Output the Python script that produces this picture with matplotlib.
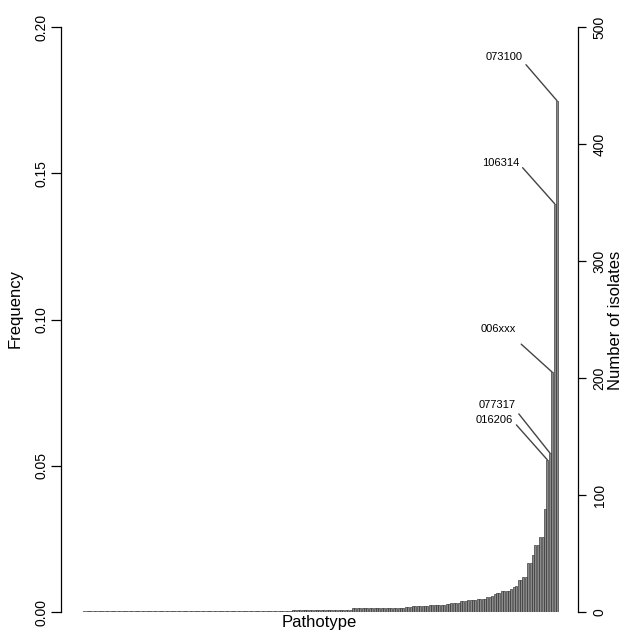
import numpy as np
import matplotlib
matplotlib.use("Agg")
import matplotlib.pyplot as plt

plt.rcParams['font.family'] = ['Liberation Sans', 'DejaVu Sans']

# Number of isolates per pathotype, sorted ascending (run-length: level, number of pathotypes)
count_levels = [1, 2, 3, 4, 5, 6, 7, 8, 9, 10, 11, 13, 14, 15, 16, 18, 20, 21, 22,
                27, 30, 42, 49, 57, 64, 88, 130, 136, 205, 349, 437]
n_pathotypes = [87, 25, 22, 3, 7, 7, 2, 4, 3, 4, 4, 2, 1, 1, 2, 4, 1, 1, 1,
                2, 2, 2, 1, 2, 2, 1, 1, 1, 1, 1, 1]
counts = np.repeat(count_levels, n_pathotypes)

# Labelled pathotypes (from the right end)
label_names = ["073100", "106314", "006xxx", "077317", "016206"]
label_rank_from_end = [1, 2, 3, 4, 5]

right_ticks = [0, 100, 200, 300, 400, 500]
left_ticks = [0.00, 0.05, 0.10, 0.15, 0.20]
left_tick_labels = ["0.00", "0.05", "0.10", "0.15", "0.20"]

# layout (pixels): line start offset from bar top, text offset from line start
line_offsets = [(-31, 36), (-32, 36), (-31, 28), (-31, 39), (-31, 35)]
text_offsets = [(-3, 8), (-3, 5), (-5, 15), (-3, 9), (-4, 5)]

W, H = 625, 635
fig = plt.figure(figsize=(W / 100, H / 100), dpi=100)
ax_l, ax_r, y_bot, y_top = 61, 578, 612, 27
ax = fig.add_axes([ax_l / W, 1 - y_bot / H, (ax_r - ax_l) / W, (y_bot - y_top) / H])
ax2 = ax.twinx()

n = len(counts)
x = np.arange(n)
ax.bar(x, counts, width=0.83, color="#8a8a8a", edgecolor="#2e2e2e", linewidth=0.45)

pitch = (557 - 84.2) / (n - 1)
ax.set_xlim(-(84.2 - ax_l) / pitch, (n - 1) + (ax_r - 557) / pitch)
ax.set_ylim(0, 500)

# right axis: counts (on the bar axes)
ax.yaxis.tick_right()
ax.set_yticks(right_ticks)
ax.set_yticklabels([str(t) for t in right_ticks])
ax.tick_params(axis='y', which='both', left=False, labelleft=False, right=True, labelright=True,
               length=5.5, width=0.9, pad=5, labelsize=10, labelrotation=90)
for lab in ax.get_yticklabels():
    lab.set_va('center')
ax.set_xticks([])
for s in ['top', 'bottom', 'left']:
    ax.spines[s].set_visible(False)
ax.spines['right'].set_bounds(0, 500)
ax.spines['right'].set_linewidth(0.9)

# left axis: frequency
ax2.set_ylim(0, 0.2 * (y_bot - y_top) / (611 - 23))
ax2.yaxis.tick_left()
ax2.set_yticks(left_ticks)
ax2.set_yticklabels(left_tick_labels)
ax2.tick_params(axis='y', which='both', right=False, labelright=False, left=True, labelleft=True,
                length=7.5, width=0.9, pad=1.5, labelsize=10, labelrotation=90)
for lab in ax2.get_yticklabels():
    lab.set_va('center')
for s in ['top', 'bottom', 'right']:
    ax2.spines[s].set_visible(False)
ax2.spines['left'].set_bounds(0, 0.2)
ax2.spines['left'].set_linewidth(0.9)

# annotations
for name, r, lo, to in zip(label_names, label_rank_from_end, line_offsets, text_offsets):
    i = n - r
    ax.annotate("", xy=(x[i], counts[i]), xytext=lo, textcoords='offset pixels',
                arrowprops=dict(arrowstyle='-', color='#444444', lw=1.0,
                                shrinkA=0, shrinkB=0))
    ax.annotate(name, xy=(x[i], counts[i]), xytext=(lo[0] + to[0], lo[1] + to[1]),
                textcoords='offset pixels', ha='right', va='center', fontsize=8)

fig.text(15 / W, 1 - 309 / H, "Frequency", rotation=90, ha='center', va='center', fontsize=12)
fig.text(615 / W, 1 - 320 / H, "Number of isolates", rotation=90, ha='center', va='center', fontsize=12)
fig.text(319.5 / W, 1 - 622 / H, "Pathotype", ha='center', va='center', fontsize=12)

fig.savefig("out.png", dpi=100)
